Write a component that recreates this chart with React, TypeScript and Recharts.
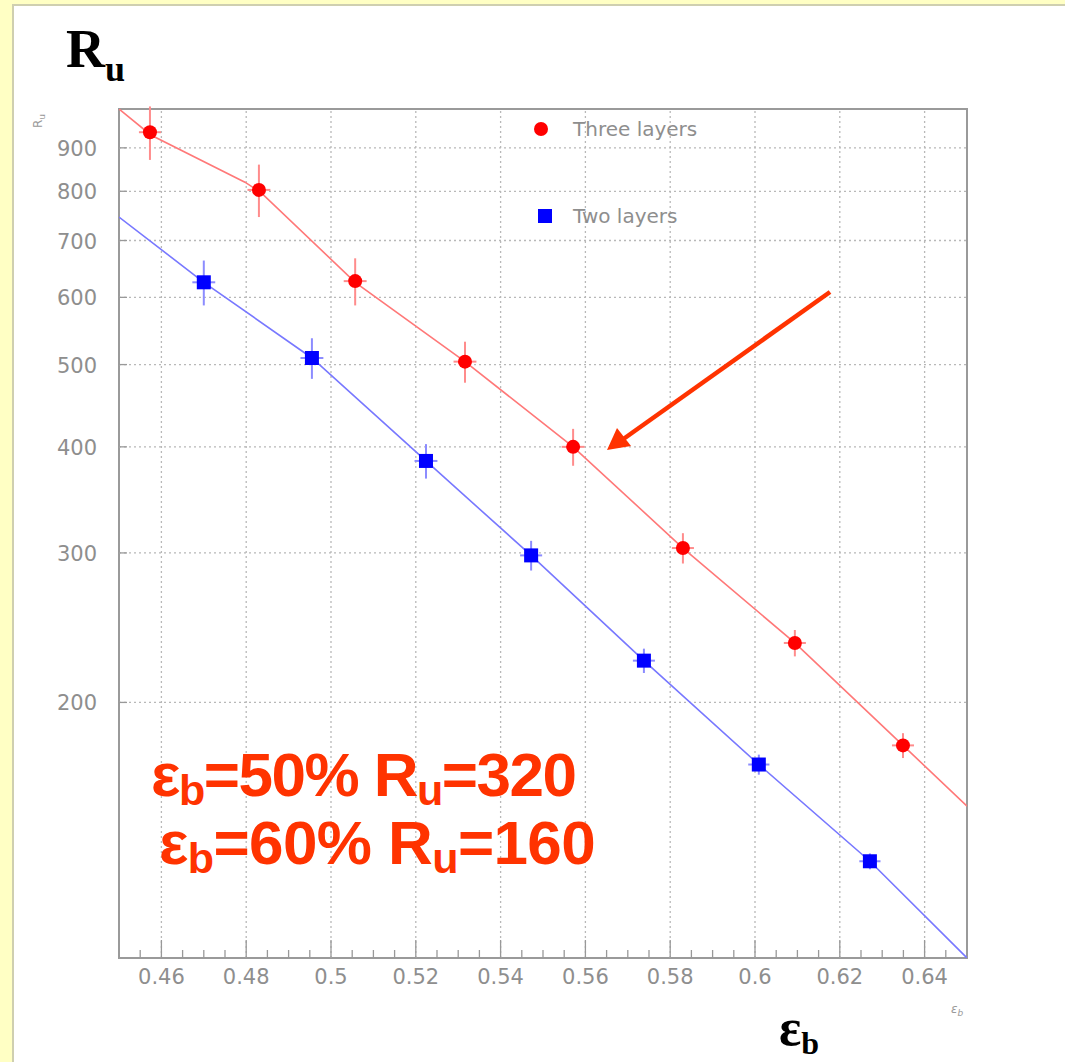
import React from "react";
import {
  ComposedChart,
  Scatter,
  XAxis,
  YAxis,
  ErrorBar,
  ReferenceLine,
  ReferenceArea
} from "recharts";

// Three layers (red circles)
const threeX = [0.4573, 0.483, 0.5057, 0.5316, 0.5571, 0.583, 0.6094, 0.6349];
const threeY = [939, 803, 627, 504, 400, 304, 235, 178];
const threeXErr = [0.0026, 0.0027, 0.0027, 0.0027, 0.0027, 0.0026, 0.0026, 0.0026];
const threeYErr = [68, 57, 40, 28, 20, 12.5, 8.4, 6];

// Two layers (blue squares)
const twoX = [0.47, 0.4955, 0.5224, 0.5472, 0.5738, 0.6009, 0.6271];
const twoY = [625, 509, 385, 298, 224, 169, 130];
const twoXErr = [0.0027, 0.0027, 0.0027, 0.0026, 0.0026, 0.0025, 0.0025];
const twoYErr = [38, 28, 18, 12, 7.4, 4.6, 2.8];

// fitted curves
const threeFitX = [0.45, 0.4575, 0.4797, 0.4835, 0.5057, 0.5316, 0.5571, 0.583, 0.6094, 0.6349, 0.65];
const threeFitY = [1000, 932, 820, 797, 625, 504, 400, 304, 235, 178, 151];
const twoFitX = [0.45, 0.47, 0.4955, 0.5224, 0.5472, 0.5738, 0.6009, 0.6271, 0.65];
const twoFitY = [746, 625, 509, 385, 298, 224, 169, 130, 100];

// axis ticks
const xMajor = [0.46, 0.48, 0.5, 0.52, 0.54, 0.56, 0.58, 0.6, 0.62, 0.64];
const xMinor = [
  0.455, 0.465, 0.47, 0.475, 0.485, 0.49, 0.495, 0.505, 0.51, 0.515, 0.525, 0.53, 0.535,
  0.545, 0.55, 0.555, 0.565, 0.57, 0.575, 0.585, 0.59, 0.595, 0.605, 0.61, 0.615, 0.625,
  0.63, 0.635, 0.645
];
const yTicks = [200, 300, 400, 500, 600, 700, 800, 900];

const threeData = threeX.map((x, i) => ({ x, y: threeY[i], ex: threeXErr[i], ey: threeYErr[i] }));
const twoData = twoX.map((x, i) => ({ x, y: twoY[i], ex: twoXErr[i], ey: twoYErr[i] }));
const threeFit = threeFitX.map((x, i) => ({ x, y: threeFitY[i] }));
const twoFit = twoFitX.map((x, i) => ({ x, y: twoFitY[i] }));

const axisFont = "'DejaVu Sans', sans-serif";
const tickGrey = "#8e8e8e";
const gridGrey = "#b8b8b8";
const annotRed = "#ff3300";
const annotFont = "'Liberation Sans', Arial, sans-serif";

const XTick = (props: any) => {
  const { x, y, payload } = props;
  const major = xMajor.includes(payload.value);
  return (
    <g>
      <line x1={x} x2={x} y1={y} y2={y - (major ? 18 : 8)} stroke="#999" strokeWidth={1.3} />
      {major && (
        <text x={x} y={y + 26} textAnchor="middle" fontSize={21} fontFamily={axisFont} fill={tickGrey}>
          {String(payload.value)}
        </text>
      )}
    </g>
  );
};

const YTick = (props: any) => {
  const { x, y, payload } = props;
  return (
    <g>
      <line x1={x} x2={x + 8} y1={y} y2={y} stroke="#999" strokeWidth={1.3} />
      <text x={x - 22} y={y + 8} textAnchor="end" fontSize={21} fontFamily={axisFont} fill={tickGrey}>
        {payload.value}
      </text>
    </g>
  );
};

const RedDot = (p: any) => <circle cx={p.cx} cy={p.cy} r={7} fill="#ff0000" />;
const BlueSquare = (p: any) => (
  <rect x={p.cx - 7} y={p.cy - 7} width={14} height={14} fill="#0000ff" />
);
const NoDot = () => <g />;

export default function App() {
  return (
    <div
      style={{
        position: "absolute",
        left: 0,
        top: 0,
        width: 1065,
        height: 1062,
        background: "#ffffc4",
        overflow: "hidden"
      }}
    >
      <div
        style={{
          position: "absolute",
          left: 12,
          top: 4,
          width: 1065,
          height: 1062,
          background: "#ffffff",
          borderLeft: "2px solid #cfcfb0",
          borderTop: "2px solid #cfcfb0"
        }}
      />
      <div style={{ position: "absolute", left: 0, top: 0 }}>
        <ComposedChart
          width={1065}
          height={1062}
          margin={{ top: 109, right: 98, bottom: 64, left: 59 }}
        >
          <XAxis
            type="number"
            dataKey="x"
            domain={[0.45, 0.65]}
            allowDataOverflow
            ticks={[...xMajor, ...xMinor]}
            interval={0}
            tick={<XTick />}
            tickLine={false}
            tickSize={0}
            tickMargin={0}
            axisLine={false}
            height={40}
          />
          <YAxis
            type="number"
            dataKey="y"
            scale="log"
            domain={[100, 1000]}
            allowDataOverflow
            ticks={yTicks}
            interval={0}
            tick={<YTick />}
            tickLine={false}
            tickSize={0}
            tickMargin={0}
            axisLine={false}
            width={60}
          />
          {xMajor.map((v) => (
            <ReferenceLine key={"gx" + v} x={v} stroke={gridGrey} strokeDasharray="2 3" strokeWidth={1.3} />
          ))}
          {yTicks.map((v) => (
            <ReferenceLine key={"gy" + v} y={v} stroke={gridGrey} strokeDasharray="2 3" strokeWidth={1.3} />
          ))}
          <ReferenceArea
            x1={0.45}
            x2={0.65}
            y1={100}
            y2={1000}
            fill="none"
            stroke="#9a9a9a"
            strokeWidth={2}
          />
          <Scatter
            data={threeFit}
            shape={NoDot}
            line={{ stroke: "#ff7878", strokeWidth: 1.6 }}
            lineType="joint"
            isAnimationActive={false}
          />
          <Scatter
            data={twoFit}
            shape={NoDot}
            line={{ stroke: "#7878ff", strokeWidth: 1.6 }}
            lineType="joint"
            isAnimationActive={false}
          />
          <Scatter data={threeData} shape={RedDot} isAnimationActive={false}>
            <ErrorBar dataKey="ey" direction="y" width={0} stroke="#ff8c8c" strokeWidth={2} />
            <ErrorBar dataKey="ex" direction="x" width={0} stroke="#ff8c8c" strokeWidth={2} />
          </Scatter>
          <Scatter data={twoData} shape={BlueSquare} isAnimationActive={false}>
            <ErrorBar dataKey="ey" direction="y" width={0} stroke="#8c8cff" strokeWidth={2} />
            <ErrorBar dataKey="ex" direction="x" width={0} stroke="#8c8cff" strokeWidth={2} />
          </Scatter>
        </ComposedChart>
      </div>
      <svg
        width={1065}
        height={1062}
        style={{ position: "absolute", left: 0, top: 0, pointerEvents: "none" }}
      >
        {/* big axis titles */}
        <text x={66} y={67} fontSize={54} fontWeight="bold" fontFamily="'Liberation Serif', serif" fill="#000">
          R
          <tspan fontSize={36} dy={14}>u</tspan>
        </text>
        <text x={779} y={1045} fontSize={52} fontWeight="bold" fontFamily="'Liberation Serif', serif" fill="#000">
          ε
          <tspan fontSize={32} dy={9}>b</tspan>
        </text>

        {/* small ROOT axis labels */}
        <text
          transform="translate(42,128) rotate(-90)"
          fontSize={12}
          fontFamily={axisFont}
          fill="#999"
        >
          R<tspan fontSize={9} dy={3}>u</tspan>
        </text>
        <text x={951} y={1013} fontSize={12} fontStyle="italic" fontFamily={axisFont} fill="#999">
          ε<tspan fontSize={9} dy={3}>b</tspan>
        </text>

        {/* legend */}
        <circle cx={541} cy={129} r={7} fill="#ff0000" />
        <text x={573} y={136} fontSize={20} fontFamily={axisFont} fill={tickGrey}>
          Three layers
        </text>
        <rect x={538} y={209} width={14} height={14} fill="#0000ff" />
        <text x={573} y={223} fontSize={20} fontFamily={axisFont} fill={tickGrey}>
          Two layers
        </text>

        {/* arrow */}
        <line x1={830} y1={292} x2={622} y2={440} stroke={annotRed} strokeWidth={4.5} />
        <polygon points="607,450 617,428 631,446" fill={annotRed} />

        {/* annotation */}
        <text x={151} y={796} fontSize={62} fontWeight="bold" fontFamily={annotFont} letterSpacing={-1.5} fill={annotRed}>
          ε<tspan fontSize={43} dy={9}>b</tspan>
          <tspan dy={-9}>=50% R</tspan>
          <tspan fontSize={43} dy={9}>u</tspan>
          <tspan dy={-9}>=320</tspan>
        </text>
        <text x={159} y={864} fontSize={62} fontWeight="bold" fontFamily={annotFont} letterSpacing={-0.6} fill={annotRed}>
          ε<tspan fontSize={43} dy={9}>b</tspan>
          <tspan dy={-9}>=60% R</tspan>
          <tspan fontSize={43} dy={9}>u</tspan>
          <tspan dy={-9}>=160</tspan>
        </text>
      </svg>
    </div>
  );
}
